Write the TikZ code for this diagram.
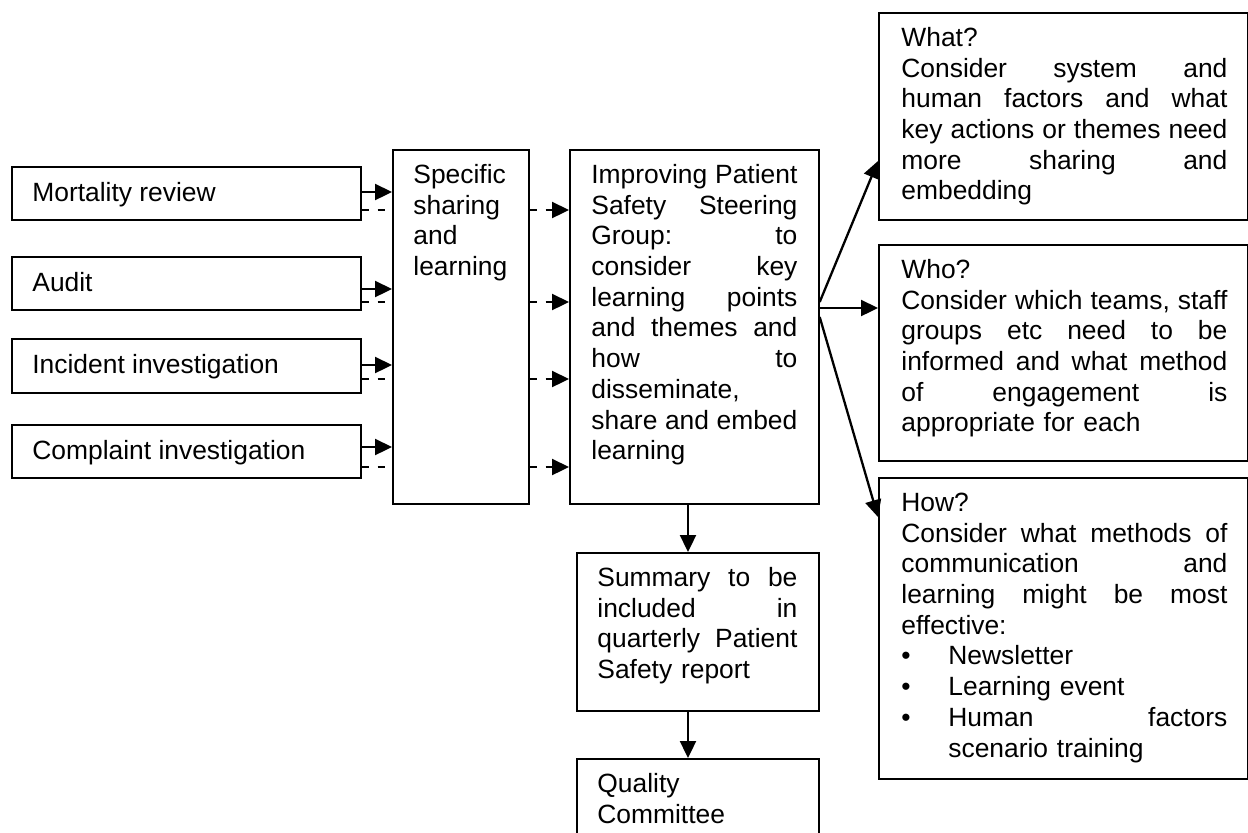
\documentclass[tikz,border=0pt]{standalone}
\usepackage{fontspec}
\setmainfont{Liberation Sans}
\usetikzlibrary{arrows.meta,calc}
\setlength\parindent{0pt}
\newcommand\jl[1]{\leavevmode\hbox to\hsize{#1}}
\newcommand\fl{\vrule height 12pt depth 0pt width 0pt}
\newcommand\bul{\makebox[23.5pt][l]{•}}
\begin{document}
\begin{tikzpicture}[x=0.5pt,y=-0.5pt,
  box/.style={draw, line width=0.85pt, inner sep=0pt, anchor=north west},
  txt/.style={inner sep=0pt, anchor=north west, align=left, font=\fontsize{13.2}{15.35}\selectfont},
  arr/.style={line width=1.15pt, -{Triangle[length=8.5pt,width=8pt]}},
  dsh/.style={line width=1.15pt, dash pattern=on 3.5pt off 4.5pt}]
\clip (0,0) rectangle (1248,832);
\fill[white] (0,0) rectangle (1248,832);

% left boxes
\node[box, minimum width=174.5pt, minimum height=26.5pt] (mort) at (11,166) {};
\node[box, minimum width=174.5pt, minimum height=26.5pt] (audit) at (11,256) {};
\node[box, minimum width=174.5pt, minimum height=27pt] (inc) at (11,338) {};
\node[box, minimum width=174.5pt, minimum height=26.5pt] (comp) at (11,424) {};
\node[txt] (tmort) at (32,177) {\fl Mortality review};
\node[txt] (taudit) at (32,267) {\fl Audit};
\node[txt] (tinc) at (32,349) {\fl Incident investigation};
\node[txt] (tcomp) at (32,435) {\fl Complaint investigation};

% specific
\node[box, minimum width=68pt, minimum height=177pt] (spec) at (392,149) {};
\node[txt] (tspec) at (413,159) {\fl Specific\\ sharing\\ and\\ learning};

% improving
\node[box, minimum width=124.5pt, minimum height=177pt] (impr) at (569,149) {};
\node[txt, text width=103pt] (timpr) at (591,159) {%
\jl{\fl Improving\hfill Patient}\\
\jl{Safety\hfill Steering}\\
\jl{Group:\hfill to}\\
\jl{consider\hfill key}\\
\jl{learning\hfill points}\\
\jl{and\hfill themes\hfill and}\\
\jl{how\hfill to}\\
disseminate,\\
\jl{share\hfill and\hfill embed}\\
learning};

% summary
\node[box, minimum width=121pt, minimum height=79pt] (summ) at (576,552) {};
\node[txt, text width=100pt] (tsumm) at (597,562) {%
\jl{\fl Summary\hfill to\hfill be}\\
\jl{included\hfill in}\\
\jl{quarterly\hfill Patient}\\
Safety report};

% quality
\node[box, minimum width=121pt, minimum height=46pt] (qual) at (576,758) {};
\node[txt, text width=100pt] (tqual) at (597,768) {\fl Quality\\ Committee};

% what
\node[box, minimum width=184.25pt, minimum height=103.5pt] (what) at (878,12) {};
\node[txt, text width=163pt] (twhat) at (901,22) {%
\fl What?\\
\jl{Consider\hfill system\hfill and}\\
\jl{human\hfill factors\hfill and\hfill what}\\
\jl{key\hfill actions\hfill or\hfill themes\hfill need}\\
\jl{more\hfill sharing\hfill and}\\
embedding};

% who
\node[box, minimum width=184.25pt, minimum height=108pt] (who) at (878,244) {};
\node[txt, text width=163pt] (twho) at (901,254) {%
\fl Who?\\
\jl{Consider\hfill which\hfill teams,\hfill staff}\\
\jl{groups\hfill etc\hfill need\hfill to\hfill be}\\
\jl{informed\hfill and\hfill what\hfill method}\\
\jl{of\hfill engagement\hfill is}\\
appropriate for each};

% how
\node[box, minimum width=184.25pt, minimum height=150.5pt] (how) at (878,477) {};
\node[txt, text width=163pt] (thow) at (901,487) {%
\fl How?\\
\jl{Consider\hfill what\hfill methods\hfill of}\\
\jl{communication\hfill and}\\
\jl{learning\hfill might\hfill be\hfill most}\\
effective:\\
\bul Newsletter\\
\bul Learning event\\
\jl{\bul Human\hfill factors}\\
\hspace*{23.5pt}scenario training};

% helper coordinates
\coordinate (y1) at (0,192);
\coordinate (y1d) at (0,210);
\coordinate (y2) at (0,289);
\coordinate (y2d) at (0,302);
\coordinate (y3) at (0,365);
\coordinate (y3d) at (0,379);
\coordinate (y4) at (0,447);
\coordinate (y4d) at (0,467);
\coordinate (f1) at (0,302);
\coordinate (f2) at (0,308);
\coordinate (f3) at (0,317);
\coordinate (e1) at (0,161);
\coordinate (e3) at (0,517);
\coordinate (dx) at (688,0);

% left -> specific
\draw[arr] (mort.east |- y1) -- (spec.west |- y1);
\draw[dsh] (mort.east |- y1d) -- (spec.west |- y1d);
\draw[arr] (audit.east |- y2) -- (spec.west |- y2);
\draw[dsh] (audit.east |- y2d) -- (spec.west |- y2d);
\draw[arr] (inc.east |- y3) -- (spec.west |- y3);
\draw[dsh] (inc.east |- y3d) -- (spec.west |- y3d);
\draw[arr] (comp.east |- y4) -- (spec.west |- y4);
\draw[dsh] (comp.east |- y4d) -- (spec.west |- y4d);

% specific -> improving
\draw[arr, dsh] (spec.east |- y1d) -- (impr.west |- y1d);
\draw[arr, dsh] (spec.east |- y2d) -- (impr.west |- y2d);
\draw[arr, dsh] (spec.east |- y3d) -- (impr.west |- y3d);
\draw[arr, dsh] (spec.east |- y4d) -- (impr.west |- y4d);

% fan out
\draw[arr] (impr.east |- f1) -- (what.west |- e1);
\draw[arr] (impr.east |- f2) -- (who.west |- f2);
\draw[arr] (impr.east |- f3) -- (how.west |- e3);

% down
\draw[arr] (impr.south -| dx) -- (summ.north -| dx);
\draw[arr] (summ.south -| dx) -- (qual.north -| dx);
\end{tikzpicture}
\end{document}
